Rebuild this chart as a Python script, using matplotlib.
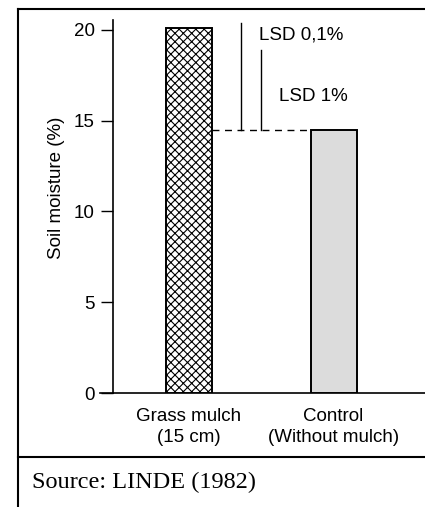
import matplotlib
matplotlib.use("Agg")
import matplotlib.pyplot as plt
from matplotlib.lines import Line2D

CATEGORIES = ["Grass mulch\n(15 cm)", "Control\n(Without mulch)"]
MOISTURE = [20.1, 14.5]
YTICKS = [0, 5, 10, 15, 20]
LSD_LABELS = ["LSD 0,1%", "LSD 1%"]
LSD_TOPS = [20.4, 18.9]      # top of each LSD bar, base at the control value
SOURCE = "Source: LINDE (1982)"

W, H = 425, 507
fig = plt.figure(figsize=(W / 100, H / 100), dpi=100)
plt.rcParams['font.family'] = ['Liberation Sans', 'DejaVu Sans']
plt.rcParams['hatch.linewidth'] = 0.8


def px(x, y):
    # pixel (from top-left) -> figure fraction
    return x / W, 1 - y / H


# outer frame and divider
for (x0, y0), (x1, y1) in [((18, 9), (425, 9)), ((18, 9), (18, 507)), ((18, 457), (425, 457))]:
    a, b = px(x0, y0)
    c, d = px(x1, y1)
    fig.add_artist(Line2D([a, c], [b, d], color='black', lw=1.5))

left, top = px(113, 20)
_, bottom = px(0, 393)
ax = fig.add_axes([left, bottom, 1 - left, top - bottom])

xpos = [0, 1]
ax.bar(xpos[0], MOISTURE[0], width=0.318, facecolor='white', edgecolor='black',
       hatch='xxxx', lw=1.4, zorder=3)
ax.bar(xpos[1], MOISTURE[1], width=0.318, facecolor='#dcdcdc', edgecolor='black',
       lw=1.4, zorder=3)

# dashed line between the bars at control level
ax.plot([xpos[0] + 0.159, xpos[1] - 0.159], [MOISTURE[1], MOISTURE[1]],
        color='black', lw=1.0, ls=(0, (5, 4)))

# LSD bars
lsd_x = [0.361, 0.5]
for x, t in zip(lsd_x, LSD_TOPS):
    ax.plot([x, x], [MOISTURE[1], t], color='black', lw=1.0)
ax.text(0.485, 19.75, LSD_LABELS[0], fontsize=13.5, va='center', ha='left')
ax.text(0.62, 16.35, LSD_LABELS[1], fontsize=13.5, va='center', ha='left')

ax.set_xlim(-0.526, 1.633)
ax.set_ylim(0, 20.55)
ax.set_yticks(YTICKS)
ax.set_yticklabels([str(v) for v in YTICKS], fontsize=13.5)
ax.tick_params(axis='y', length=9, width=1.0, pad=4)
ax.set_xticks(xpos)
ax.set_xticklabels(CATEGORIES, fontsize=13.5, linespacing=1.25)
ax.tick_params(axis='x', length=0, pad=11)
ax.set_ylabel("Soil moisture (%)", fontsize=13.5)
ax.yaxis.set_label_coords(-0.155, 0.55)

ax.spines['top'].set_visible(False)
ax.spines['right'].set_visible(False)
ax.spines['left'].set_linewidth(1.2)
ax.spines['bottom'].set_linewidth(1.2)
ax.patch.set_alpha(0)

# extend baseline a bit left of the y axis
a, b = px(100, 393)
c, d = px(113, 393)
fig.add_artist(Line2D([a, c], [b, d], color='black', lw=1.2))

sx, sy = px(32, 482)
fig.text(sx, sy, SOURCE, fontsize=17.5, family=['Liberation Serif', 'DejaVu Serif'],
         va='center', ha='left')

fig.savefig("out.png", dpi=100)
